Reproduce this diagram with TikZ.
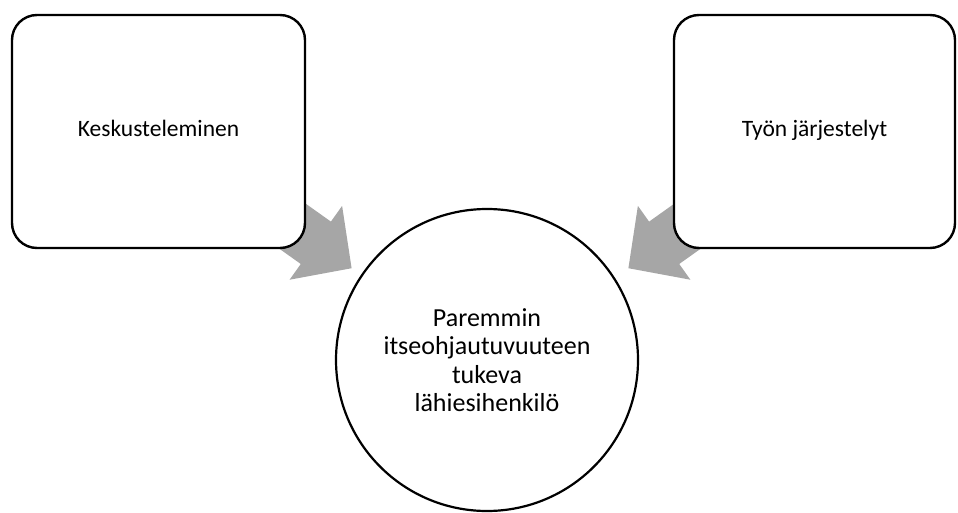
\documentclass[tikz,border=0pt]{standalone}
\usepackage{fontspec}
\setmainfont{Carlito}
\usetikzlibrary{arrows.meta, positioning, calc, backgrounds}
\definecolor{arrowgray}{HTML}{A6A6A6}

\begin{document}
\begin{tikzpicture}[x=1pt, y=-1pt,
    laatikko/.style={draw, line width=2.4pt, rounded corners=25pt, fill=white,
      font=\fontsize{23.5}{28}\selectfont, inner sep=0pt, text height=16pt, text depth=5pt},
    ympyra/.style={draw, circle, line width=2.2pt, fill=white, minimum size=302pt,
      align=center, font=\fontsize{26}{28.5}\selectfont, inner sep=0pt},
    isonuoli/.style={draw=arrowgray, line width=52pt,
      -{Triangle[length=44pt, width=88pt, fill=arrowgray]}}]
  \useasboundingbox (0,0) rectangle (958,513);
  % laatikot ja keskipiste
  \node[laatikko, minimum width=293pt, minimum height=233pt] (kesk) at (158.5,131.5) {Keskusteleminen};
  \node[laatikko, minimum width=281pt, minimum height=233pt] (tyo) at (814.5,131.5) {Työn järjestelyt};
  \node[ympyra] (tavoite) at (487,360) {Paremmin\\itseohjautuvuuteen\\tukeva\\lähiesihenkilö};
  % nuolten kärjet
  \coordinate (karkiV) at (351.7,268.3);
  \coordinate (karkiO) at (628.3,268.3);
  % nuolet laatikoiden alle
  \begin{pgfonlayer}{background}
    \draw[isonuoli] ([shift={(-39,-41)}]kesk.south east) -- (karkiV);
    \draw[isonuoli] ([shift={(40,-41)}]tyo.south west) -- (karkiO);
  \end{pgfonlayer}
\end{tikzpicture}
\end{document}
